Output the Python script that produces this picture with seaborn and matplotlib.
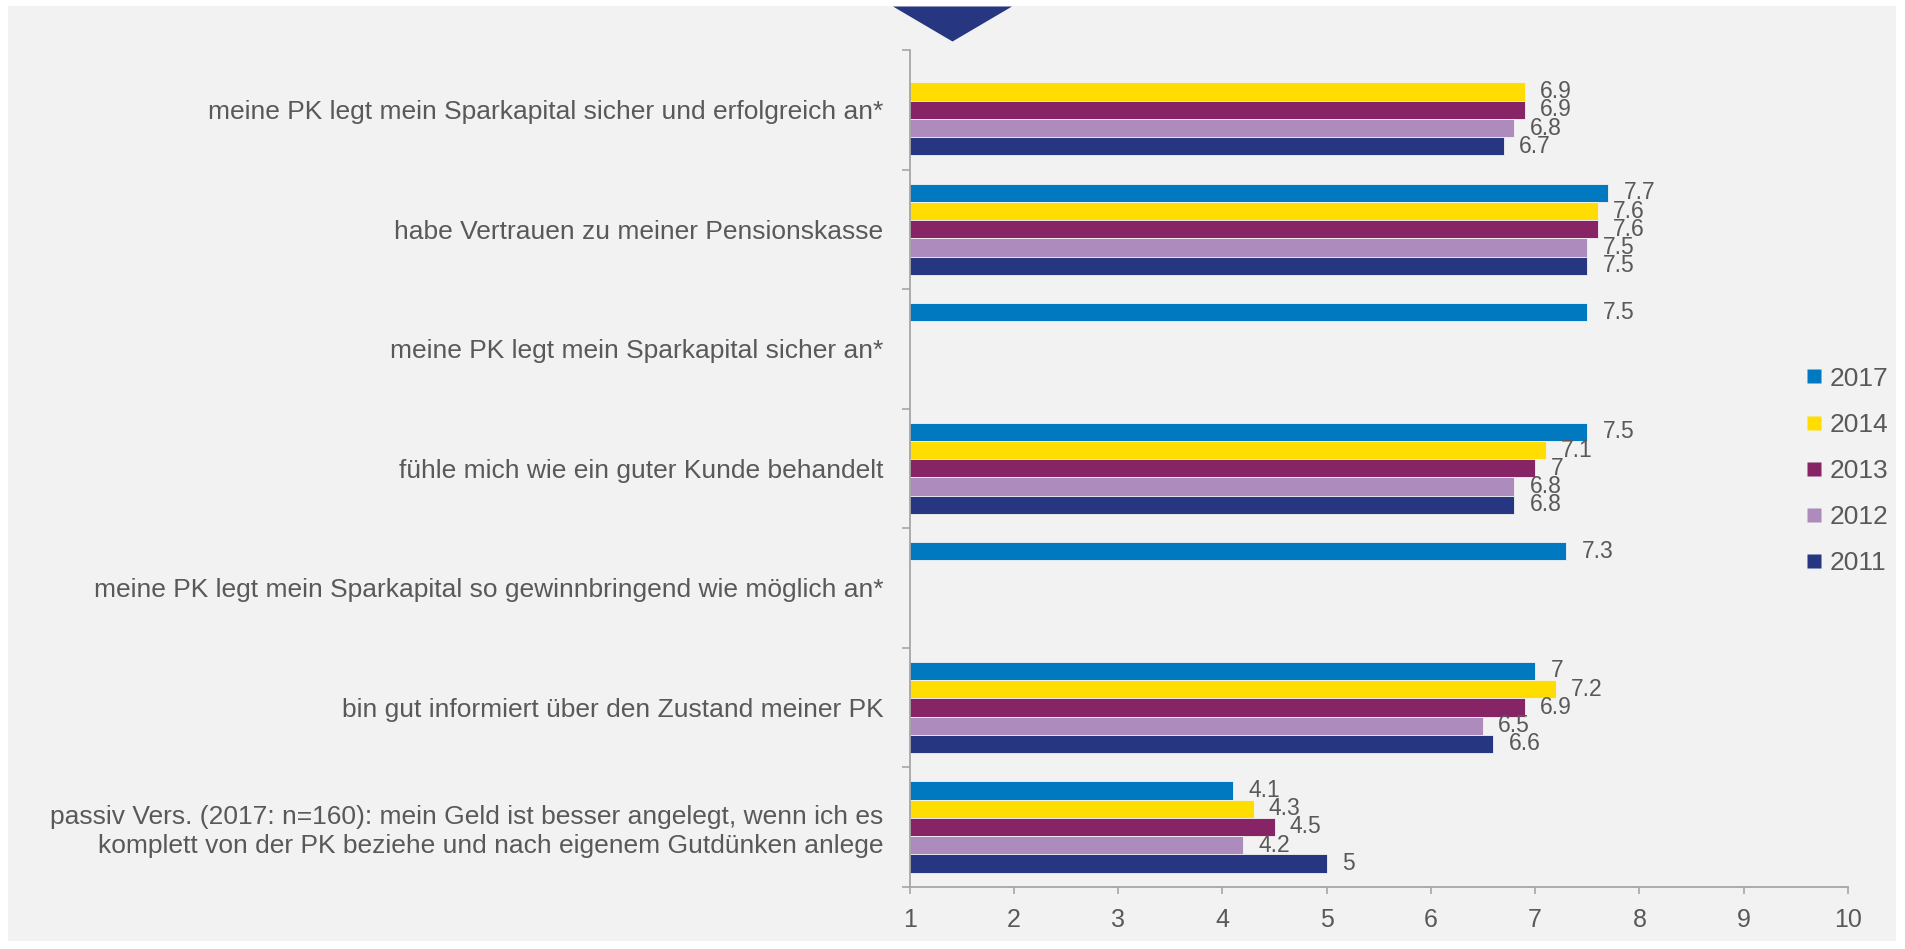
import numpy as np
import pandas as pd
import matplotlib
matplotlib.use("Agg")
import matplotlib.pyplot as plt
from matplotlib.patches import Rectangle, Polygon
from matplotlib.lines import Line2D
import seaborn as sns

# ── Data ───────────────────────────────────────────────────────────
CATEGORIES = [
    "meine PK legt mein Sparkapital sicher und erfolgreich an*",
    "habe Vertrauen zu meiner Pensionskasse",
    "meine PK legt mein Sparkapital sicher an*",
    "fühle mich wie ein guter Kunde behandelt",
    "meine PK legt mein Sparkapital so gewinnbringend wie möglich an*",
    "bin gut informiert über den Zustand meiner PK",
    "passiv Vers. (2017: n=160): mein Geld ist besser angelegt, wenn ich es\n"
    "komplett von der PK beziehe und nach eigenem Gutdünken anlege",
]
YEARS = ["2017", "2014", "2013", "2012", "2011"]

VALUES_2017 = [np.nan, 7.7, 7.5, 7.5, 7.3, 7.0, 4.1]
VALUES_2014 = [6.9, 7.6, np.nan, 7.1, np.nan, 7.2, 4.3]
VALUES_2013 = [6.9, 7.6, np.nan, 7.0, np.nan, 6.9, 4.5]
VALUES_2012 = [6.8, 7.5, np.nan, 6.8, np.nan, 6.5, 4.2]
VALUES_2011 = [6.7, 7.5, np.nan, 6.8, np.nan, 6.6, 5.0]

X_TICKS = [1, 2, 3, 4, 5, 6, 7, 8, 9, 10]

COLORS = {
    "2017": "#0079c1",
    "2014": "#ffdd00",
    "2013": "#862466",
    "2012": "#ad8bbd",
    "2011": "#263680",
}
TEXT_COLOR = "#595959"
AXIS_COLOR = "#a6a6a6"

series = [VALUES_2017, VALUES_2014, VALUES_2013, VALUES_2012, VALUES_2011]
rows = []
for year, vals in zip(YEARS, series):
    for cat, v in zip(CATEGORIES, vals):
        rows.append({"Kategorie": cat, "Jahr": year, "Wert": v})
df = pd.DataFrame(rows).dropna()

# ── Figure ─────────────────────────────────────────────────────────
sns.set_style("white")
plt.rcParams["font.family"] = ["Liberation Sans", "DejaVu Sans"]

W, H = 1906, 949
fig = plt.figure(figsize=(W / 100, H / 100), dpi=100, facecolor="white")

# light grey panel behind the chart
fig.patches.append(Rectangle((8 / W, 1 - 941 / H), (1896 - 8) / W, (941 - 6) / H,
                             transform=fig.transFigure, facecolor="#f2f2f2",
                             edgecolor="none", zorder=-10))
# decorative triangle at the top
fig.patches.append(Polygon([(893 / W, 1 - 6.5 / H), (1012 / W, 1 - 6.5 / H),
                            (952.5 / W, 1 - 41.5 / H)], closed=True,
                           transform=fig.transFigure, facecolor="#263680",
                           edgecolor="none", zorder=5))

ax = fig.add_axes([909.7 / W, 1 - 886.7 / H, (1847.9 - 909.7) / W, (886.7 - 50) / H])
ax.set_facecolor("none")

sns.barplot(
    data=df, y="Kategorie", x="Wert", hue="Jahr",
    order=CATEGORIES, hue_order=YEARS, palette=COLORS, saturation=1,
    orient="h", width=0.765, dodge=True, errorbar=None,
    edgecolor="#f4f4f4", linewidth=0.6, legend=False, ax=ax,
)

for cont in ax.containers:
    ax.bar_label(cont, labels=[f"{b.get_width():g}" for b in cont],
                 padding=11, fontsize=16.5, color=TEXT_COLOR)

ax.set_xlim(1, 10)
ax.set_ylim(len(CATEGORIES) - 0.5, -0.5)
ax.set_xticks(X_TICKS)
ax.set_xlabel("")
ax.set_ylabel("")

# category boundaries as ticks on the left axis
ax.set_yticks(np.arange(-0.5, len(CATEGORIES), 1.0), minor=True)
ax.tick_params(axis="y", which="major", length=0, pad=19, labelsize=19,
               labelcolor=TEXT_COLOR)
ax.tick_params(axis="y", which="minor", length=6, width=1.2, color=AXIS_COLOR,
               direction="out", left=True)
ax.tick_params(axis="x", which="major", length=5, width=1.2, color=AXIS_COLOR,
               direction="out", bottom=True, pad=10, labelsize=18,
               labelcolor=TEXT_COLOR)
for lbl in ax.get_yticklabels():
    lbl.set_linespacing(1.25)

for side in ["top", "right"]:
    ax.spines[side].set_visible(False)
for side in ["left", "bottom"]:
    ax.spines[side].set_color(AXIS_COLOR)
    ax.spines[side].set_linewidth(1.3)

# legend on the right
handles = [Line2D([0], [0], marker="s", linestyle="none", markersize=10,
                  markerfacecolor=COLORS[y], markeredgecolor="none") for y in YEARS]
fig.legend(handles, YEARS, loc="center left", bbox_to_anchor=(1806 / W, 1 - 471 / H),
           frameon=False, fontsize=19, labelcolor=TEXT_COLOR,
           handlelength=0.6, handletextpad=0.3, labelspacing=0.84,
           borderpad=0, borderaxespad=0)

fig.savefig("out.png", dpi=100, facecolor="white")
